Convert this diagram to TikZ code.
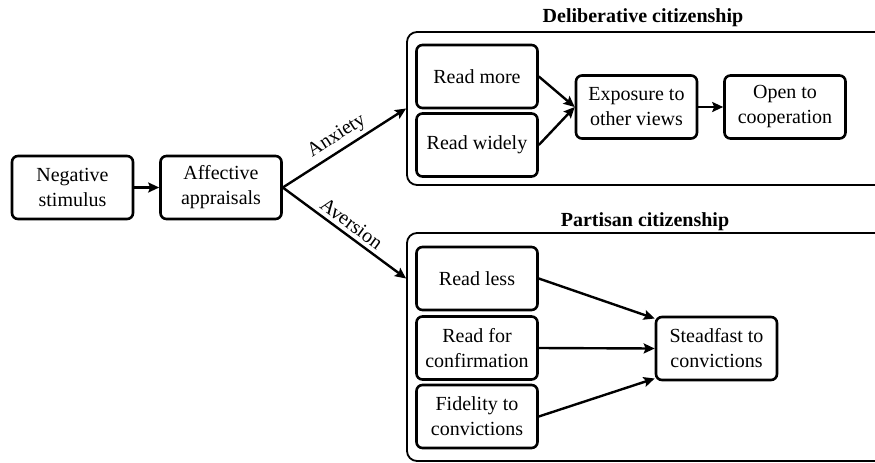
\documentclass[tikz,border=0pt]{standalone}
\usepackage{fontspec}
\setmainfont{Liberation Serif}
\usetikzlibrary{arrows.meta}

\begin{document}
\begin{tikzpicture}[x=0.5pt,y=-0.5pt,
    caja/.style={draw,line width=1.3pt,rounded corners=3pt,align=center,
        minimum width=60.5pt,minimum height=31.5pt,inner sep=1pt,
        font=\fontsize{10}{12.5}\selectfont},
    marco/.style={draw,line width=0.9pt,rounded corners=5pt,minimum width=250pt,inner sep=0pt},
    titulo/.style={font=\fontsize{10}{12}\selectfont\bfseries},
    flecha/.style={line width=1.2pt,-{Stealth[length=5.5pt,width=5pt,inset=1pt]}},
    etiq/.style={font=\fontsize{10}{12}\selectfont,sloped,above,inner sep=2pt}]
\def\colA{477};%Columna de lectura
\def\dy{15};%Desplazamiento de llegada

%Marco de la figura
\useasboundingbox (0,0) rectangle (875,462);
\clip (0,0) rectangle (875,462);

%Contenedores
\node[marco,minimum height=76.5pt] (delib) at (657,108.5) {};
\node[marco,minimum height=114pt] (parti) at (657,347) {};
\node[titulo] (tdelib) at (643,18) {Deliberative citizenship};
\node[titulo] (tparti) at (645,222) {Partisan citizenship};

%Cadena inicial
\node[caja] (neg) at (72.5,187.5) {Negative\\stimulus};
\node[caja] (aff) at (221,187.5) {Affective\\appraisals};

%Ciudadania deliberativa
\node[caja] (rmore) at (\colA,76.5) {Read more};
\node[caja] (rwide) at (\colA,145) {Read widely};
\node[caja] (expo) at (636.5,107) {Exposure to\\other views};
\node[caja] (open) at (785,107) {Open to\\cooperation};

%Ciudadania partidista
\node[caja] (rless) at (\colA,278.5) {Read less};
\node[caja] (rconf) at (\colA,348) {Read for\\confirmation};
\node[caja] (fidel) at (\colA,416.5) {Fidelity to\\convictions};
\node[caja] (stead) at (716.5,348.5) {Steadfast to\\convictions};

%Flechas
\draw[flecha] (neg) -- (aff);
\draw[flecha] (aff.east) -- (delib.west) node[etiq,midway] {Anxiety};
\draw[flecha] (aff.east) -- (parti.west |- rless.west) node[etiq,midway] {Aversion};
\draw[flecha] (rmore.east) -- (expo.west);
\draw[flecha] (rwide.east) -- (expo.west);
\draw[flecha] (expo) -- (open);
\draw[flecha] (rless.east) -- ([yshift=\dy*1pt]stead.west);
\draw[flecha] (rconf.east) -- (stead.west);
\draw[flecha] (fidel.east) -- ([yshift=-\dy*1pt]stead.west);
\end{tikzpicture}
\end{document}
